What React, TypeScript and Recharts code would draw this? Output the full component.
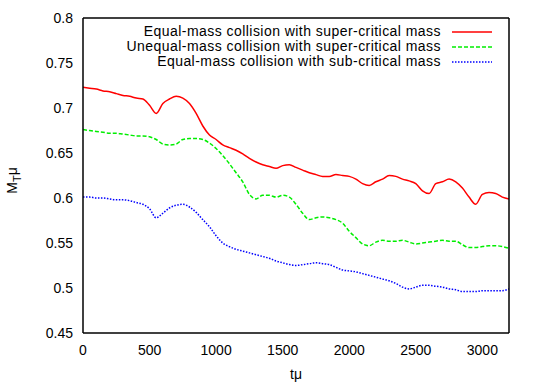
import { LineChart, Line, XAxis, YAxis, Legend } from 'recharts'

// time samples (tμ)
const TIME = [
  0, 50, 100, 150, 200, 250, 300, 350, 400, 450,
  500, 550, 600, 650, 700, 750, 800, 850, 900, 950,
  1000, 1050, 1100, 1150, 1200, 1250, 1300, 1350, 1400, 1450,
  1500, 1550, 1600, 1650, 1700, 1750, 1800, 1850, 1900, 1950,
  2000, 2050, 2100, 2150, 2200, 2250, 2300, 2350, 2400, 2450,
  2500, 2550, 2600, 2650, 2700, 2750, 2800, 2850, 2900, 2950,
  3000, 3050, 3100, 3150, 3200,
]

// equal-mass, super-critical
const EQ_SUPER = [
  0.723, 0.722, 0.721, 0.719, 0.718, 0.716, 0.714, 0.713, 0.711, 0.710,
  0.703, 0.694, 0.705, 0.710, 0.713, 0.711, 0.705, 0.694, 0.680, 0.670,
  0.665, 0.659, 0.656, 0.653, 0.649, 0.644, 0.640, 0.637, 0.635, 0.633,
  0.636, 0.637, 0.634, 0.631, 0.628, 0.626, 0.624, 0.624, 0.626, 0.625,
  0.624, 0.621, 0.616, 0.614, 0.618, 0.621, 0.625, 0.624, 0.621, 0.619,
  0.616, 0.608, 0.605, 0.616, 0.618, 0.621, 0.618, 0.611, 0.601, 0.593,
  0.604, 0.606, 0.605, 0.601, 0.599,
]

// unequal-mass, super-critical
const UNEQ_SUPER = [
  0.676, 0.675, 0.674, 0.673, 0.672, 0.672, 0.671, 0.670, 0.669, 0.669,
  0.668, 0.665, 0.660, 0.659, 0.660, 0.665, 0.666, 0.666, 0.665, 0.661,
  0.655, 0.647, 0.638, 0.628, 0.618, 0.604, 0.599, 0.603, 0.603, 0.601,
  0.603, 0.601, 0.593, 0.583, 0.576, 0.578, 0.579, 0.578, 0.576, 0.572,
  0.563, 0.556, 0.549, 0.547, 0.551, 0.553, 0.552, 0.552, 0.553, 0.551,
  0.549, 0.550, 0.551, 0.552, 0.553, 0.552, 0.552, 0.548, 0.545, 0.545,
  0.546, 0.547, 0.547, 0.546, 0.544,
]

// equal-mass, sub-critical
const EQ_SUB = [
  0.601, 0.601, 0.600, 0.600, 0.599, 0.598, 0.598, 0.597, 0.595, 0.593,
  0.588, 0.578, 0.583, 0.589, 0.592, 0.593, 0.590, 0.584, 0.576, 0.568,
  0.558, 0.550, 0.546, 0.543, 0.541, 0.539, 0.537, 0.535, 0.533, 0.530,
  0.528, 0.526, 0.525, 0.526, 0.527, 0.528, 0.527, 0.526, 0.523, 0.520,
  0.519, 0.518, 0.516, 0.514, 0.512, 0.510, 0.508, 0.505, 0.501, 0.499,
  0.501, 0.503, 0.503, 0.502, 0.501, 0.499, 0.498, 0.496, 0.496, 0.496,
  0.497, 0.497, 0.497, 0.497, 0.499,
]

const X_MAJOR = [0, 500, 1000, 1500, 2000, 2500, 3000]
const X_MINOR = [
  0, 100, 200, 300, 400, 500, 600, 700, 800, 900, 1000, 1100, 1200, 1300, 1400, 1500,
  1600, 1700, 1800, 1900, 2000, 2100, 2200, 2300, 2400, 2500, 2600, 2700, 2800, 2900,
  3000, 3100, 3200,
]
const Y_MAJOR = [0.45, 0.5, 0.55, 0.6, 0.65, 0.7, 0.75, 0.8]
const Y_MINOR = [
  0.45, 0.475, 0.5, 0.525, 0.55, 0.575, 0.6, 0.625, 0.65, 0.675, 0.7, 0.725, 0.75, 0.775, 0.8,
]
const Y_LABELS = ['0.45', '0.5', '0.55', '0.6', '0.65', '0.7', '0.75', '0.8']

const SERIES = [
  { key: 'eqSuper', name: 'Equal-mass collision with super-critical mass', color: '#ff0000', dash: undefined },
  { key: 'uneqSuper', name: 'Unequal-mass collision with super-critical mass', color: '#00ee00', dash: '4 2' },
  { key: 'eqSub', name: 'Equal-mass collision with sub-critical mass', color: '#0000ff', dash: '1.5 1.5' },
]

const data = TIME.map((t, i) => ({
  t,
  eqSuper: EQ_SUPER[i],
  uneqSuper: UNEQ_SUPER[i],
  eqSub: EQ_SUB[i],
}))

const FONT = "'Liberation Sans', Arial, Helvetica, sans-serif"
const X_DOMAIN: [number, number] = [0, 3200]
const Y_DOMAIN: [number, number] = [0.45, 0.8]
const tickStyle = { fontSize: 14, fill: '#000', fontFamily: FONT }
const axisStroke = { stroke: '#000', strokeWidth: 1.5 }

function LegendBox() {
  return (
    <div style={{ width: 500, fontFamily: FONT, fontSize: 14, letterSpacing: '0.45px', color: '#000' }}>
      {SERIES.map((s) => (
        <div
          key={s.key}
          style={{ display: 'flex', justifyContent: 'flex-end', alignItems: 'center', height: 15, lineHeight: '15px', paddingRight: 8 }}
        >
          <span>{s.name}</span>
          <svg width={40} height={6} style={{ marginLeft: 11 }}>
            <line x1={0} y1={3} x2={40} y2={3} stroke={s.color} strokeWidth={1.5} strokeDasharray={s.dash} />
          </svg>
        </div>
      ))}
    </div>
  )
}

function YTitle(props: any) {
  const vb = props.viewBox || { x: 0, y: 0, width: 0, height: 0 }
  const cy = vb.y + vb.height / 2 + 5
  return (
    <text
      transform={`translate(17, ${cy}) rotate(-90)`}
      textAnchor="middle"
      fontFamily={FONT}
      fontSize={14}
      fill="#000"
    >
      M<tspan fontSize={11} dy={4}>T</tspan>
      <tspan dy={-4}>μ</tspan>
    </text>
  )
}

export default function App() {
  return (
    <div style={{ position: 'absolute', left: 0, top: 0, width: 545, height: 382, background: '#fff' }}>
      <LineChart width={545} height={382} data={data} margin={{ top: 18, right: 36, bottom: 0, left: 0 }}>
        <XAxis
          xAxisId="main"
          dataKey="t"
          type="number"
          domain={X_DOMAIN}
          allowDataOverflow
          ticks={X_MAJOR}
          tickLine={false}
          tickSize={6}
          tickMargin={6}
          axisLine={axisStroke}
          tick={tickStyle}
          height={49}
          label={{ value: 'tμ', position: 'insideBottom', offset: 3, style: { ...tickStyle } }}
        />
        <XAxis xAxisId="bMaj" type="number" domain={X_DOMAIN} allowDataOverflow ticks={X_MAJOR} mirror tick={false} tickSize={6} axisLine={false} tickLine={axisStroke} />
        <XAxis xAxisId="bMin" type="number" domain={X_DOMAIN} allowDataOverflow ticks={X_MINOR} mirror tick={false} tickSize={3} axisLine={false} tickLine={axisStroke} />
        <XAxis xAxisId="tMaj" orientation="top" type="number" domain={X_DOMAIN} allowDataOverflow ticks={X_MAJOR} mirror tick={false} tickSize={6} axisLine={axisStroke} tickLine={axisStroke} />
        <XAxis xAxisId="tMin" orientation="top" type="number" domain={X_DOMAIN} allowDataOverflow ticks={X_MINOR} mirror tick={false} tickSize={3} axisLine={false} tickLine={axisStroke} />

        <YAxis
          yAxisId="main"
          type="number"
          domain={Y_DOMAIN}
          allowDataOverflow
          ticks={Y_MAJOR}
          tickFormatter={(v: number) => Y_LABELS[Y_MAJOR.indexOf(v)] ?? String(v)}
          tickLine={false}
          tickSize={6}
          tickMargin={4}
          axisLine={axisStroke}
          tick={tickStyle}
          width={83}
          label={{ content: YTitle }}
        />
        <YAxis yAxisId="lMaj" type="number" domain={Y_DOMAIN} allowDataOverflow ticks={Y_MAJOR} mirror tick={false} tickSize={6} axisLine={false} tickLine={axisStroke} />
        <YAxis yAxisId="lMin" type="number" domain={Y_DOMAIN} allowDataOverflow ticks={Y_MINOR} mirror tick={false} tickSize={3} axisLine={false} tickLine={axisStroke} />
        <YAxis yAxisId="rMaj" orientation="right" type="number" domain={Y_DOMAIN} allowDataOverflow ticks={Y_MAJOR} mirror tick={false} tickSize={6} axisLine={axisStroke} tickLine={axisStroke} />
        <YAxis yAxisId="rMin" orientation="right" type="number" domain={Y_DOMAIN} allowDataOverflow ticks={Y_MINOR} mirror tick={false} tickSize={3} axisLine={false} tickLine={axisStroke} />

        <Legend
          layout="vertical"
          align="center"
          verticalAlign="middle"
          content={() => <LegendBox />}
          wrapperStyle={{ top: 24, left: 0, width: 500, height: 45 }}
        />

        {SERIES.map((s) => (
          <Line
            key={s.key}
            xAxisId="main"
            yAxisId="main"
            dataKey={s.key}
            name={s.name}
            type="monotone"
            stroke={s.color}
            strokeWidth={1.5}
            strokeDasharray={s.dash}
            dot={false}
            activeDot={false}
            isAnimationActive={false}
          />
        ))}
      </LineChart>
    </div>
  )
}
